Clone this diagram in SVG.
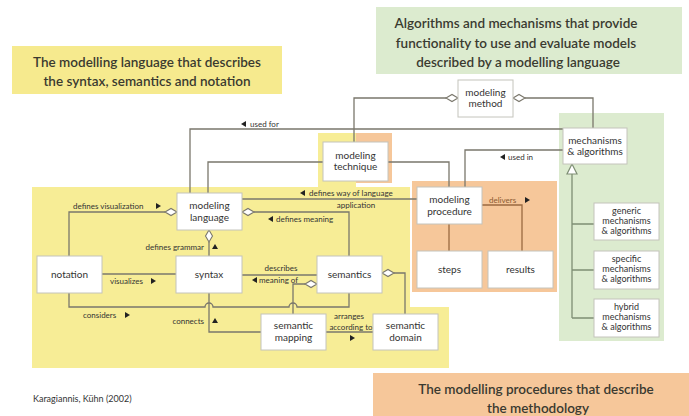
<svg xmlns="http://www.w3.org/2000/svg" width="689" height="416" viewBox="0 0 689 416">
<style>
.t{font-family:Lato,"Open Sans",sans-serif;fill:#333;}
.title{font-size:13.5px;font-weight:600;text-anchor:middle;fill:#3a3a30;}
.bx{fill:#fff;stroke:#c4c4bc;stroke-width:1;}
.lb{font-size:10px;text-anchor:middle;}
.sm{font-size:9px;text-anchor:middle;}
.rl{font-size:8px;}
.ln{fill:none;stroke:#7a776c;stroke-width:1.3;}
.lo{fill:none;stroke:#9a6a40;stroke-width:1.3;}
.lg{fill:none;stroke:#7e8e74;stroke-width:1.3;}
.dm{fill:#fff;stroke:#7a776c;stroke-width:1.1;}
.ar{fill:#222;}
</style>
<rect width="689" height="416" fill="#fff"/>
<!-- background regions -->
<g id="regions">
<rect x="12" y="46" width="270" height="48" fill="#f6ea8e"/>
<rect x="376" y="7" width="306" height="67" fill="#dcebcf"/>
<rect x="373" y="373" width="316" height="43" fill="#f6c79a"/>
<polygon points="32,187 410,187 410,307 449,307 449,368 32,368" fill="#f7ed96"/>
<rect x="318" y="133" width="38" height="54" fill="#f7ed96"/>
<rect x="356" y="133" width="36" height="50" fill="#f6c79a"/>
<rect x="412" y="181" width="145" height="111" fill="#f6c79a"/>
<rect x="559" y="113" width="105" height="228" fill="#dcebcf"/>
</g>
<g id="titles">
<text class="t title" x="147" y="67">The modelling language that describes</text>
<text class="t title" x="147" y="86">the syntax, semantics and notation</text>
<text class="t title" x="516" y="28">Algorithms and mechanisms that provide</text>
<text class="t title" x="516" y="48">functionality to use and evaluate models</text>
<text class="t title" x="518" y="67">described by a modelling language</text>
<text class="t title" x="536" y="394">The modelling procedures that describe</text>
<text class="t title" x="538" y="413">the methodology</text>
<text class="t" x="33" y="402" font-size="9">Karagiannis, Kühn (2002)</text>
</g>
<g id="connectors">
<!-- modeling method -->
<path class="ln" d="M446 98 H354 V142"/>
<path class="ln" d="M525 98 H593 V128"/>
<!-- used for -->
<path class="ln" d="M190 193 V129 H563"/>
<!-- technique -->
<path class="ln" d="M208 193 V162 H323"/>
<path class="ln" d="M388 162 H449 V187"/>
<!-- used in -->
<path class="ln" d="M465 187 V150 H563"/>
<!-- defines way of language application -->
<path class="ln" d="M242 199 H417"/>
<!-- defines meaning -->
<path class="ln" d="M254 212 H349 V256"/>
<!-- defines visualization -->
<path class="ln" d="M165 212 H69 V256"/>
<!-- defines grammar -->
<path class="ln" d="M209 242 V256"/>
<!-- visualizes -->
<path class="ln" d="M102 274 H176"/>
<!-- describes meaning of -->
<path class="ln" d="M242 275 H317"/>
<!-- semantic mapping to semantics -->
<path class="ln" d="M305 284 H293 V314"/>
<!-- semantic domain to semantics -->
<path class="ln" d="M394 273 H405 V314"/>
<!-- connects -->
<path class="ln" d="M209 293 V332 H261"/>
<!-- considers -->
<path class="ln" d="M69 293 V307 H205 a4 4 0 0 1 8 0 H289 a4 4 0 0 1 8 0 H349 V293"/>
<!-- arranges according to -->
<path class="ln" d="M326 332 H373"/>
<!-- procedure -->
<path class="lo" d="M449 224 V251"/>
<path class="lo" d="M482 205 H522 V251"/>
<!-- mechanisms inheritance -->
<path class="lg" d="M572 174 V318 M572 224 H594 M572 270 H594 M572 318 H594"/>
<polygon points="572,164 567,174 577,174" fill="#fff" stroke="#7e8e74" stroke-width="1.2"/>
<!-- diamonds -->
<polygon class="dm" points="458,98 452,94.5 446,98 452,101.5"/>
<polygon class="dm" points="513,98 519,94.5 525,98 519,101.5"/>
<polygon class="dm" points="177,212 171,208.5 165,212 171,215.5"/>
<polygon class="dm" points="242,212 248,208.5 254,212 248,215.5"/>
<polygon class="dm" points="209,230 205.5,236 209,242 212.5,236"/>
<polygon class="dm" points="317,284 311,280.5 305,284 311,287.5"/>
<polygon class="dm" points="382,273 388,269.5 394,273 388,276.5"/>
<!-- arrowheads of labels -->
<polygon class="ar" points="241,124 246,121 246,127"/>
<polygon class="ar" points="500,157 505,154 505,160"/>
<polygon class="ar" points="300,193 305,190 305,196"/>
<polygon class="ar" points="268,219 273,216 273,222"/>
<polygon class="ar" points="161,206 156,203 156,209"/>
<polygon class="ar" points="215,244 212,249 218,249"/>
<polygon class="ar" points="156,281 151,278 151,284"/>
<polygon class="ar" points="130,315 125,312 125,318"/>
<polygon class="ar" points="215,318 212,323 218,323"/>
<polygon class="ar" points="252,280 257,277 257,283"/>
<polygon class="ar" points="355,338 350,335 350,341"/>
<polygon class="ar" points="530,200 525,197 525,203"/>
<!-- relation labels -->
<text class="t rl" x="250" y="127">used for</text>
<text class="t rl" x="508" y="160">used in</text>
<text class="t rl" x="309" y="196">defines way of language</text>
<text class="t rl" x="356" y="208" text-anchor="middle">application</text>
<text class="t rl" x="276" y="222">defines meaning</text>
<text class="t rl" x="73" y="209">defines visualization</text>
<text class="t rl" x="204" y="250" text-anchor="end">defines grammar</text>
<text class="t rl" x="110" y="284">visualizes</text>
<text class="t rl" x="83" y="318">considers</text>
<text class="t rl" x="204" y="324" text-anchor="end">connects</text>
<text class="t rl" x="281" y="271" text-anchor="middle">describes</text>
<text class="t rl" x="259" y="283">meaning of</text>
<text class="t rl" x="349" y="319" text-anchor="middle">arranges</text>
<text class="t rl" x="351" y="330" text-anchor="middle">according to</text>
<text class="t rl" x="489" y="203" fill="#8a5a30" style="fill:#8a5a30">delivers</text>
</g>
<g id="modeling-method"><rect class="bx" x="458" y="80" width="55" height="37"/><text class="t lb" x="485.5" y="96">modeling</text><text class="t lb" x="485.5" y="107">method</text></g>
<g id="modeling-technique"><rect class="bx" x="323" y="142" width="65" height="39"/><text class="t lb" x="355.5" y="159">modeling</text><text class="t lb" x="355.5" y="170">technique</text></g>
<g id="mechanisms"><rect class="bx" x="563" y="128" width="64" height="36"/><text class="t lb" x="595" y="144">mechanisms</text><text class="t lb" x="595" y="155">&amp; algorithms</text></g>
<g id="modeling-language"><rect class="bx" x="177" y="193" width="65" height="37"/><text class="t lb" x="209.5" y="209">modeling</text><text class="t lb" x="209.5" y="221">language</text></g>
<g id="modeling-procedure"><rect class="bx" x="417" y="187" width="65" height="37"/><text class="t lb" x="449.5" y="203">modeling</text><text class="t lb" x="449.5" y="215">procedure</text></g>
<g id="notation"><rect class="bx" x="37" y="256" width="65" height="37"/><text class="t lb" x="69.5" y="278">notation</text></g>
<g id="syntax"><rect class="bx" x="176" y="256" width="66" height="37"/><text class="t lb" x="209" y="278">syntax</text></g>
<g id="semantics"><rect class="bx" x="317" y="256" width="65" height="37"/><text class="t lb" x="349.5" y="278">semantics</text></g>
<g id="semantic-mapping"><rect class="bx" x="261" y="314" width="65" height="36"/><text class="t lb" x="293.5" y="329">semantic</text><text class="t lb" x="293.5" y="341">mapping</text></g>
<g id="semantic-domain"><rect class="bx" x="373" y="314" width="65" height="36"/><text class="t lb" x="405.5" y="329">semantic</text><text class="t lb" x="405.5" y="341">domain</text></g>
<g id="steps"><rect class="bx" x="417" y="251" width="65" height="37"/><text class="t lb" x="449.5" y="273">steps</text></g>
<g id="results"><rect class="bx" x="488" y="251" width="65" height="37"/><text class="t lb" x="520.5" y="273">results</text></g>
<g id="generic"><rect class="bx" x="594" y="203" width="65" height="37"/><text class="t sm" x="626.5" y="214">generic</text><text class="t sm" x="626.5" y="224">mechanisms</text><text class="t sm" x="626.5" y="234">&amp; algorithms</text></g>
<g id="specific"><rect class="bx" x="594" y="251" width="65" height="38"/><text class="t sm" x="626.5" y="262">specific</text><text class="t sm" x="626.5" y="272">mechanisms</text><text class="t sm" x="626.5" y="282">&amp; algorithms</text></g>
<g id="hybrid"><rect class="bx" x="594" y="299" width="65" height="38"/><text class="t sm" x="626.5" y="310">hybrid</text><text class="t sm" x="626.5" y="320">mechanisms</text><text class="t sm" x="626.5" y="330">&amp; algorithms</text></g>
</svg>
